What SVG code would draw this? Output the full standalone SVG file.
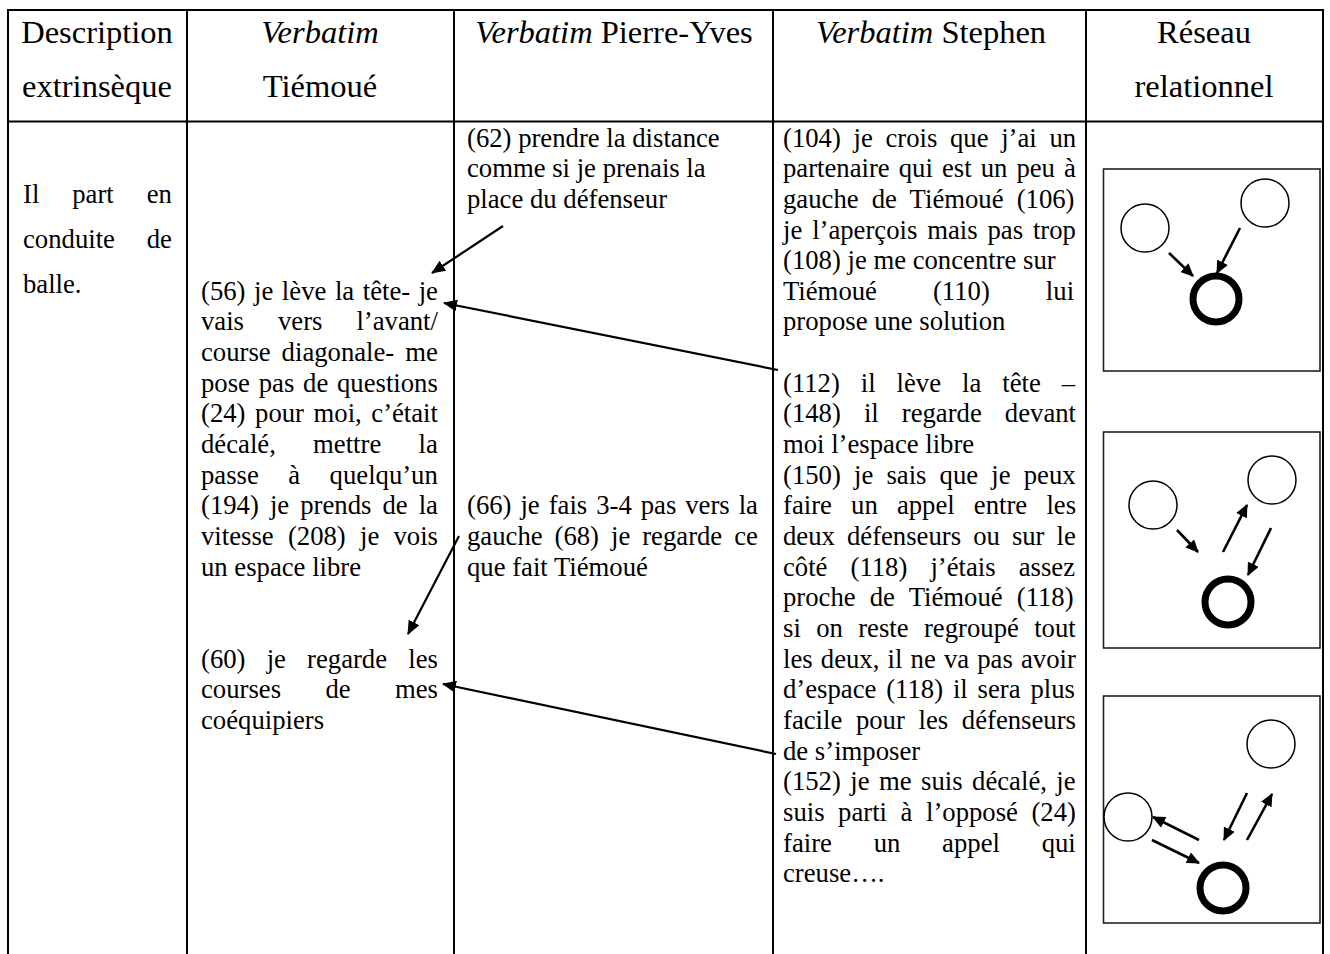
<svg xmlns="http://www.w3.org/2000/svg" width="1330" height="954" viewBox="0 0 1330 954">
<style>
text{font-family:"Liberation Serif","Times New Roman",serif;fill:#000}
.h{font-size:32.5px}
.b{font-size:26.7px}
.i{font-style:italic}
.grid{stroke:#000;stroke-width:2;fill:none}
.conn{stroke:#000;stroke-width:2.2;fill:none}
.box{stroke:#222;stroke-width:1.6;fill:#fff}
.p{stroke:#000;stroke-width:1.5;fill:#fff}
.me{stroke:#000;stroke-width:7;fill:#fff}
.na{stroke:#000;stroke-width:2.6;fill:none}
</style>
<defs>
<marker id="ah" viewBox="0 0 14 12" refX="13" refY="6" markerWidth="14" markerHeight="12" markerUnits="userSpaceOnUse" orient="auto">
<path d="M0,0 L14,6 L0,12 z" fill="#000"/>
</marker>
<marker id="ah2" viewBox="0 0 13 12" refX="12" refY="6" markerWidth="13" markerHeight="12" markerUnits="userSpaceOnUse" orient="auto">
<path d="M0,0 L13,6 L0,12 z" fill="#000"/>
</marker>
</defs>
<rect width="1330" height="954" fill="#fff"/>
<g id="table">
<line class="grid" x1="7" y1="10" x2="1324" y2="10"/>
<line class="grid" x1="7" y1="121.5" x2="1324" y2="121.5"/>
<line class="grid" x1="8" y1="9" x2="8" y2="954"/>
<line class="grid" x1="187" y1="9" x2="187" y2="954"/>
<line class="grid" x1="454" y1="9" x2="454" y2="954"/>
<line class="grid" x1="773" y1="9" x2="773" y2="954"/>
<line class="grid" x1="1086" y1="9" x2="1086" y2="954"/>
<line class="grid" x1="1323" y1="9" x2="1323" y2="954"/>
</g>
<g id="header">
<text class="h" x="97" y="43" text-anchor="middle">Description</text>
<text class="h" x="97" y="97" text-anchor="middle">extrinsèque</text>
<text class="h i" x="320" y="43" text-anchor="middle">Verbatim</text>
<text class="h" x="320" y="97" text-anchor="middle">Tiémoué</text>
<text class="h" x="614" y="43" text-anchor="middle"><tspan class="i">Verbatim</tspan> Pierre-Yves</text>
<text class="h" x="931" y="43" text-anchor="middle"><tspan class="i">Verbatim</tspan> Stephen</text>
<text class="h" x="1204" y="43" text-anchor="middle">Réseau</text>
<text class="h" x="1204" y="97" text-anchor="middle">relationnel</text>
</g>
<g id="description">
<text class="b" x="23" y="203" word-spacing="26.3">Il part en</text>
<text class="b" x="23" y="248" word-spacing="25.2">conduite de</text>
<text class="b" x="23" y="293">balle.</text>
</g>
<g id="tiemoue">
<text class="b" x="201" y="299.8" word-spacing="1.9">(56) je lève la tête- je</text>
<text class="b" x="201" y="330.4" word-spacing="27.3">vais vers l’avant/</text>
<text class="b" x="201" y="361.1" word-spacing="4.3">course diagonale- me</text>
<text class="b" x="201" y="391.7" word-spacing="2.1">pose pas de questions</text>
<text class="b" x="201" y="422.4" word-spacing="2.9">(24) pour moi, c’était</text>
<text class="b" x="201" y="453" word-spacing="30.6">décalé, mettre la</text>
<text class="b" x="201" y="483.7" word-spacing="22.8">passe à quelqu’un</text>
<text class="b" x="201" y="514.3" word-spacing="4.4">(194) je prends de la</text>
<text class="b" x="201" y="545" word-spacing="7.6">vitesse (208) je vois</text>
<text class="b" x="201" y="575.6">un espace libre</text>
<text class="b" x="201" y="667.6" word-spacing="14.5">(60) je regarde les</text>
<text class="b" x="201" y="698.2" word-spacing="37.7">courses de mes</text>
<text class="b" x="201" y="728.9">coéquipiers</text>
</g>
<g id="pierre-yves">
<text class="b" x="467" y="146.5">(62) prendre la distance</text>
<text class="b" x="467" y="177.2">comme si je prenais la</text>
<text class="b" x="467" y="207.8">place du défenseur</text>
<text class="b" x="467" y="514.3" word-spacing="2.3">(66) je fais 3-4 pas vers la</text>
<text class="b" x="467" y="545" word-spacing="5.3">gauche (68) je regarde ce</text>
<text class="b" x="467" y="575.6">que fait Tiémoué</text>
</g>
<g id="stephen">
<text class="b" x="783" y="146.5" word-spacing="6">(104) je crois que j’ai un</text>
<text class="b" x="783" y="177.2" word-spacing="2.4">partenaire qui est un peu à</text>
<text class="b" x="783" y="207.8" word-spacing="6.5">gauche de Tiémoué (106)</text>
<text class="b" x="783" y="238.5" word-spacing="3.2">je l’aperçois mais pas trop</text>
<text class="b" x="783" y="269.1">(108) je me concentre sur</text>
<text class="b" x="783" y="299.8" word-spacing="49.4">Tiémoué (110) lui</text>
<text class="b" x="783" y="330.4">propose une solution</text>
<text class="b" x="783" y="391.7" word-spacing="14.3">(112) il lève la tête –</text>
<text class="b" x="783" y="422.4" word-spacing="16.4">(148) il regarde devant</text>
<text class="b" x="783" y="453">moi l’espace libre</text>
<text class="b" x="783" y="483.7" word-spacing="6.5">(150) je sais que je peux</text>
<text class="b" x="783" y="514.3" word-spacing="12.5">faire un appel entre les</text>
<text class="b" x="783" y="545" word-spacing="5.4">deux défenseurs ou sur le</text>
<text class="b" x="783" y="575.6" word-spacing="16.4">côté (118) j’étais assez</text>
<text class="b" x="783" y="606.3" word-spacing="7.5">proche de Tiémoué (118)</text>
<text class="b" x="783" y="636.9" word-spacing="8.7">si on reste regroupé tout</text>
<text class="b" x="783" y="667.6" word-spacing="1.5">les deux, il ne va pas avoir</text>
<text class="b" x="783" y="698.2" word-spacing="3.2">d’espace (118) il sera plus</text>
<text class="b" x="783" y="728.9" word-spacing="7">facile pour les défenseurs</text>
<text class="b" x="783" y="759.5">de s’imposer</text>
<text class="b" x="783" y="790.2" word-spacing="2.8">(152) je me suis décalé, je</text>
<text class="b" x="783" y="820.8" word-spacing="6.9">suis parti à l’opposé (24)</text>
<text class="b" x="783" y="851.5" word-spacing="35.1">faire un appel qui</text>
<text class="b" x="783" y="882.1">creuse….</text>
</g>
<g id="connectors">
<line class="conn" x1="503" y1="226" x2="432" y2="273" marker-end="url(#ah)"/>
<line class="conn" x1="778" y1="370" x2="444" y2="303" marker-end="url(#ah)"/>
<line class="conn" x1="459" y1="536" x2="408" y2="634" marker-end="url(#ah)"/>
<line class="conn" x1="776" y1="754" x2="443" y2="684" marker-end="url(#ah)"/>
</g>
<g id="network1">
<rect class="box" x="1103.5" y="169" width="216.5" height="202"/>
<circle class="p" cx="1145" cy="228" r="24"/>
<circle class="p" cx="1265" cy="203" r="24"/>
<circle class="me" cx="1216" cy="299" r="23"/>
<line class="na" x1="1169" y1="253" x2="1193" y2="276" marker-end="url(#ah2)"/>
<line class="na" x1="1240" y1="228" x2="1217" y2="273" stroke-width="3.6" marker-end="url(#ah2)"/>
</g>
<g id="network2">
<rect class="box" x="1103.5" y="432" width="216.5" height="216"/>
<circle class="p" cx="1153" cy="505" r="24"/>
<circle class="p" cx="1272" cy="480" r="24"/>
<circle class="me" cx="1228" cy="602" r="23"/>
<line class="na" x1="1177" y1="530" x2="1198" y2="552" marker-end="url(#ah2)"/>
<line class="na" x1="1223" y1="552" x2="1247" y2="505" marker-end="url(#ah2)"/>
<line class="na" x1="1271" y1="528" x2="1248" y2="575" marker-end="url(#ah2)"/>
</g>
<g id="network3">
<rect class="box" x="1103.5" y="696" width="216.5" height="227"/>
<circle class="p" cx="1271" cy="744" r="24"/>
<circle class="p" cx="1128" cy="817" r="24"/>
<circle class="me" cx="1223" cy="888" r="23"/>
<line class="na" x1="1199" y1="840" x2="1153" y2="817" marker-end="url(#ah2)"/>
<line class="na" x1="1152" y1="840" x2="1199" y2="863" marker-end="url(#ah2)"/>
<line class="na" x1="1247" y1="793" x2="1224" y2="840" marker-end="url(#ah2)"/>
<line class="na" x1="1247" y1="840" x2="1272" y2="794" marker-end="url(#ah2)"/>
</g>
</svg>
